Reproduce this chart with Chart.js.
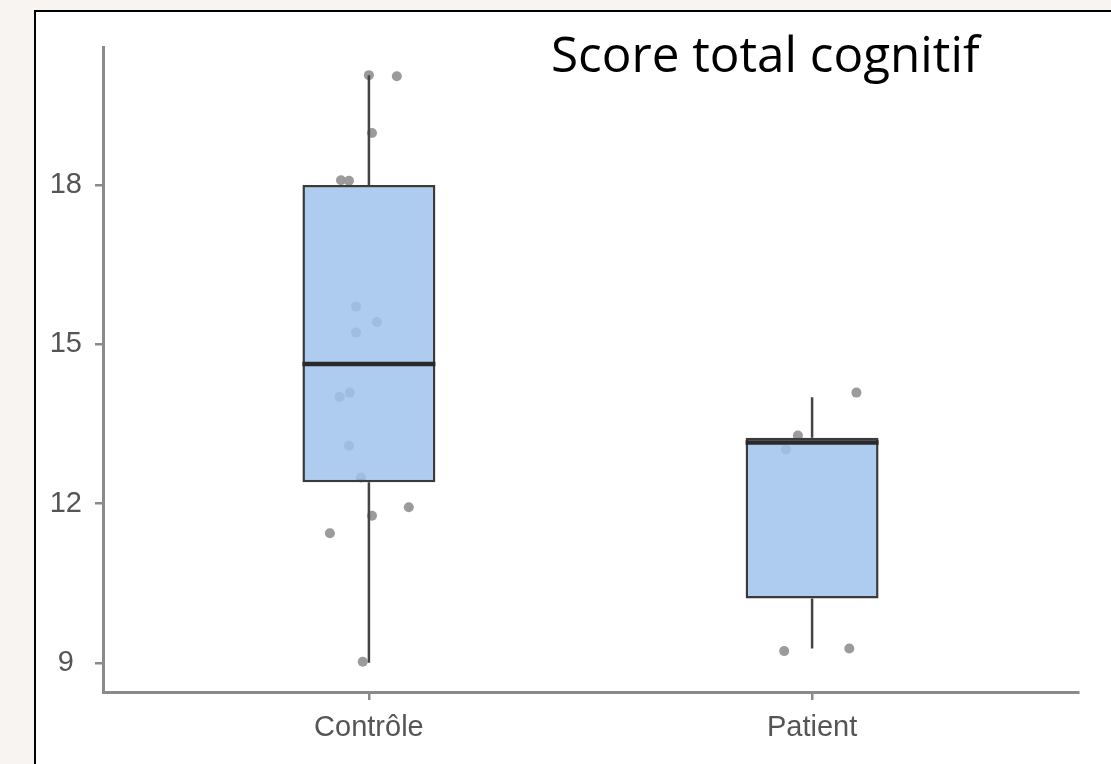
<!DOCTYPE html>
<html>
<head>
<meta charset="utf-8">
<script src="https://cdn.jsdelivr.net/npm/chart.js@4.4.0/dist/chart.umd.min.js"></script>
<style>
  html, body { margin: 0; padding: 0; background: #f7f4f1; }
  #wrap { position: relative; width: 1111px; height: 764px; overflow: hidden; }
  #panel { position: absolute; left: 34px; top: 10px; right: 0; bottom: 0;
           background: #fff; border-left: 2px solid #000; border-top: 2px solid #000; }
  #chart { position: absolute; left: 0; top: 0; }
</style>
</head>
<body>
<div id="wrap">
  <div id="panel"></div>
  <canvas id="chart" width="1111" height="764"></canvas>
</div>
<script>
const titleText = 'Score total cognitif';
const groups = ['Contrôle', 'Patient'];
const groupPos = [1, 2];
const boxLow = [12.4, 10.21];      // Q1
const boxHigh = [18.0, 13.24];     // Q3
const medians = [14.63, 13.15];
const whiskerLow = [9.0, 9.27];
const whiskerHigh = [20.07, 14.0];
const yTicks = [9, 12, 15, 18];

// jittered observations (x position on the group axis, score)
const controlX = [1.0, 1.063, 1.007, 0.937, 0.955, 0.971, 1.018, 0.971, 0.934, 0.957, 0.955, 0.982, 1.007, 1.09, 0.912, 0.986];
const controlY = [20.07, 20.05, 18.98, 18.09, 18.08, 15.71, 15.42, 15.22, 14.01, 14.09, 13.09, 12.49, 11.77, 11.93, 11.44, 9.02];
const patientX = [2.1, 1.968, 1.941, 1.937, 2.084];
const patientY = [14.09, 13.28, 13.02, 9.22, 9.27];

const boxWidth = 0.3;

const points = controlX.map((x, i) => ({ x: x, y: controlY[i] }))
  .concat(patientX.map((x, i) => ({ x: x, y: patientY[i] })));

const boxes = groupPos.map((x, i) => ({ x: x, y: [boxLow[i], boxHigh[i]] }));

const whiskers = groupPos.flatMap((x, i) => [
  { x: x, y: boxHigh[i] }, { x: x, y: whiskerHigh[i] }, { x: x, y: null },
  { x: x, y: whiskerLow[i] }, { x: x, y: boxLow[i] }, { x: x, y: null }
]);

const medianLines = groupPos.flatMap((x, i) => [
  { x: x - boxWidth / 2, y: medians[i] }, { x: x + boxWidth / 2, y: medians[i] }, { x: x + 0.3, y: null }
]);

// title drawn on the canvas, top right of the plot, sized to its width in the picture
const titlePlugin = {
  id: 'titleText',
  afterDraw(chart) {
    const ctx = chart.ctx;
    ctx.save();
    ctx.font = '100px "Open Sans"';
    const size = 100 * 429 / ctx.measureText(titleText).width;
    ctx.font = size.toFixed(1) + 'px "Open Sans"';
    ctx.fillStyle = '#000';
    ctx.textBaseline = 'alphabetic';
    ctx.textAlign = 'left';
    ctx.fillText(titleText, 551, 72);
    ctx.restore();
  }
};

const axisColor = '#8a8a8a';
const tickFont = { family: '"Liberation Sans", Arial', size: 29 };

new Chart(document.getElementById('chart'), {
  type: 'scatter',
  data: {
    datasets: [
      {
        type: 'scatter',
        data: points,
        backgroundColor: '#9b9b9b',
        borderWidth: 0,
        pointRadius: 5,
        order: 4
      },
      {
        type: 'line',
        data: whiskers,
        borderColor: '#444',
        borderWidth: 2.5,
        pointRadius: 0,
        spanGaps: false,
        order: 3
      },
      {
        type: 'bar',
        data: boxes,
        backgroundColor: 'rgba(160,194,237,0.85)',
        borderColor: '#3a3a3a',
        borderWidth: 2.5,
        borderSkipped: false,
        barPercentage: boxWidth,
        categoryPercentage: 1,
        order: 2
      },
      {
        type: 'line',
        data: medianLines,
        borderColor: '#2a2a2a',
        borderWidth: 4.5,
        borderCapStyle: 'butt',
        pointRadius: 0,
        spanGaps: false,
        order: 1
      }
    ]
  },
  options: {
    responsive: false,
    animation: false,
    layout: { padding: { left: 43, top: 47, right: 33, bottom: 12 } },
    plugins: { legend: { display: false }, tooltip: { enabled: false }, title: { display: false } },
    scales: {
      x: {
        type: 'linear',
        min: 0.4,
        max: 2.6,
        offset: false,
        afterBuildTicks: s => { s.ticks = groupPos.map(v => ({ value: v })); },
        afterFit: s => { s.height = 60; },
        ticks: {
          callback: v => groups[groupPos.indexOf(v)],
          font: tickFont,
          color: '#555',
          padding: 11,
          maxRotation: 0
        },
        grid: { offset: false, drawOnChartArea: false, drawTicks: true, tickLength: 8, color: axisColor, lineWidth: 2.5 },
        border: { display: true, color: axisColor, width: 3 }
      },
      y: {
        type: 'linear',
        min: 8.45,
        max: 20.6,
        afterBuildTicks: s => { s.ticks = yTicks.map(v => ({ value: v })); },
        afterFit: s => { s.width = 60; },
        ticks: {
          font: tickFont,
          color: '#555',
          padding: 13,
          crossAlign: 'center'
        },
        grid: { drawOnChartArea: false, drawTicks: true, tickLength: 8, color: axisColor, lineWidth: 2.5 },
        border: { display: true, color: axisColor, width: 3 }
      }
    }
  },
  plugins: [titlePlugin]
});
</script>
</body>
</html>
